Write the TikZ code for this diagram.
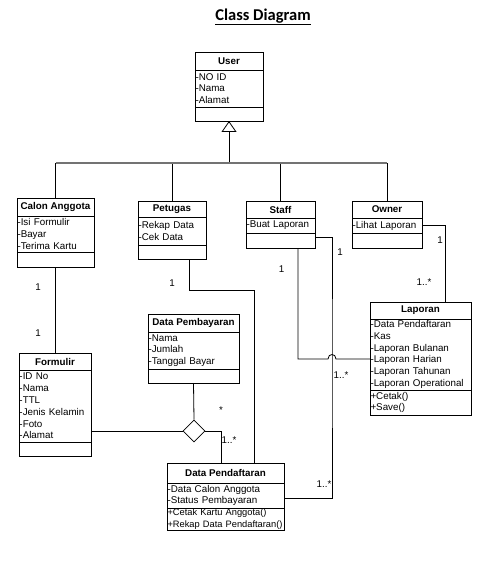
\documentclass[tikz,border=0pt]{standalone}
\usepackage{fontspec}
\setmainfont{Liberation Sans}
\newfontfamily\titlefont{Carlito}
\usetikzlibrary{positioning,arrows.meta,shapes.geometric}

\tikzset{
  cname/.style={draw, line width=0.8pt, font=\fontsize{9.8}{11.8}\selectfont\bfseries, inner sep=0pt, outer sep=0pt},
  cpart/.style={draw, line width=0.8pt, font=\fontsize{9.8}{11.8}\selectfont, align=left,
    inner xsep=0.5pt, inner ysep=0pt, outer sep=0pt, below=0pt of #1},
  mult/.style={font=\fontsize{9.8}{11.8}\selectfont, inner sep=0pt},
  link/.style={line width=0.8pt},
  busline/.style={line width=1.6pt, draw=black!55},
}

\begin{document}
\begin{tikzpicture}[x=1pt, y=-1pt]
  \useasboundingbox (0,0) rectangle (498,564);
  \node[font=\titlefont\fontsize{16.5}{18}\selectfont\bfseries] (title) at (263,17) {\underline{Class Diagram}};

  % User
  \node[cname, minimum width=68pt, minimum height=18pt] (user) at (229,61) {User};
  \node[cpart=user, text width=67pt, minimum height=37pt] (userA) {-NO ID\\-Nama\\-Alamat};
  \node[cpart=userA, text width=67pt, minimum height=14pt] (userM) {};

  % Calon Anggota
  \node[cname, minimum width=77pt, minimum height=18pt] (calon) at (55.5,207) {Calon Anggota};
  \node[cpart=calon, text width=76pt, minimum height=36pt] (calonA) {-Isi Formulir\\-Bayar\\-Terima Kartu};
  \node[cpart=calonA, text width=76pt, minimum height=15pt] (calonM) {};

  % Petugas
  \node[cname, minimum width=68pt, minimum height=16pt] (petugas) at (172,209) {Petugas};
  \node[cpart=petugas, text width=67pt, minimum height=28pt] (petugasA) {-Rekap Data\\-Cek Data};
  \node[cpart=petugasA, text width=67pt, minimum height=14pt] (petugasM) {};

  % Staff
  \node[cname, minimum width=69pt, minimum height=17pt] (staff) at (280.5,209.5) {Staff};
  \node[cpart=staff, text width=68pt, minimum height=15pt] (staffA) {-Buat Laporan};
  \node[cpart=staffA, text width=68pt, minimum height=15pt] (staffM) {};

  % Owner
  \node[cname, minimum width=70pt, minimum height=17pt] (owner) at (387,209.5) {Owner};
  \node[cpart=owner, text width=69pt, minimum height=15pt] (ownerA) {-Lihat Laporan};
  \node[cpart=ownerA, text width=69pt, minimum height=15pt] (ownerM) {};

  % Laporan
  \node[cname, minimum width=101pt, minimum height=17pt] (laporan) at (420.5,310.5) {Laporan};
  \node[cpart=laporan, text width=100pt, minimum height=71pt] (laporanA) {-Data Pendaftaran\\-Kas\\-Laporan Bulanan\\-Laporan Harian\\-Laporan Tahunan\\-Laporan Operational};
  \node[cpart=laporanA, text width=100pt, minimum height=25pt] (laporanM) {+Cetak()\\+Save()};

  % Formulir
  \node[cname, minimum width=72pt, minimum height=17pt] (formulir) at (55,361.5) {Formulir};
  \node[cpart=formulir, text width=71pt, minimum height=72pt] (formulirA) {-ID No\\-Nama\\-TTL\\-Jenis Kelamin\\-Foto\\-Alamat};
  \node[cpart=formulirA, text width=71pt, minimum height=14pt] (formulirM) {};

  % Data Pembayaran
  \node[cname, minimum width=91pt, minimum height=18pt] (dpemb) at (193.5,323) {Data Pembayaran};
  \node[cpart=dpemb, text width=90pt, minimum height=37pt] (dpembA) {-Nama\\-Jumlah\\-Tanggal Bayar};
  \node[cpart=dpembA, text width=90pt, minimum height=14pt] (dpembM) {};

  % Data Pendaftaran
  \node[cname, minimum width=117pt, minimum height=20pt] (dpend) at (225.5,473) {Data Pendaftaran};
  \node[cpart=dpend, text width=116pt, minimum height=25pt] (dpendA) {-Data Calon Anggota\\-Status Pembayaran};
  \node[cpart=dpendA, text width=116pt, minimum height=22pt, font=\fontsize{9.3}{11.8}\selectfont] (dpendM) {\mbox{+Cetak Kartu Anggota()}\\\mbox{+Rekap Data Pendaftaran()}};

  % generalisation
  \coordinate (bus) at (229,163);
  \draw[link, -{Triangle[open, length=11pt, width=15pt]}] (bus) -- (userM.south);
  \draw[link] (calon.north) -- (calon.north |- bus);
  \draw[link] (petugas.north) -- (petugas.north |- bus);
  \draw[link] (staff.north) -- (staff.north |- bus);
  \draw[link] (owner.north) -- (owner.north |- bus);
  \draw[busline] (calon.north |- bus) -- (owner.north |- bus);

  % associations
  \draw[link] (calonM.south) -- (calonM.south |- formulir.north);
  \draw[link] ([xshift=17pt]petugasM.south) -- ++(0,31) -| ([xshift=28.5pt]dpend.north);
  \draw[link] (ownerA.east) -| ([xshift=25pt]laporan.north);

  \coordinate (hop) at (332,359);
  \coordinate (dpR) at ([yshift=-2.5pt]dpendA.east);
  \draw[link] ([xshift=17.5pt]staffM.south) |- ([xshift=-4pt]hop)
    .. controls ([xshift=-4pt, yshift=6pt]hop) and ([xshift=4pt, yshift=6pt]hop) .. ([xshift=4pt]hop)
    -- (laporanA.west |- hop);
  \draw[link] ([yshift=3.5pt]staffM.east) -| (hop) -- (hop |- dpR) -- (dpR);

  % aggregation
  \node[diamond, draw, link, inner sep=0pt, minimum width=22pt, minimum height=22pt] (agg) at (194,431) {};
  \draw[link] (dpembM.south) -- (agg.north);
  \draw[link] (agg.west) -- (agg.west -| formulirA.east);
  \draw[link] (agg.east) -| ([xshift=-4.5pt]dpend.north);

  % multiplicities
  \node[mult] (mCalon) at (38,287) {1};
  \node[mult] (mForm) at (38,333) {1};
  \node[mult] (mPetugas) at (172,283) {1};
  \node[mult] (mStaffL) at (281.5,269) {1};
  \node[mult] (mStaffR) at (340,252) {1};
  \node[mult] (mOwner) at (440,240) {1};
  \node[mult] (mLapO) at (424,282) {1..*};
  \node[mult] (mLapS) at (341,375) {1..*};
  \node[mult] (mPemb) at (221,410) {*};
  \node[mult] (mPendA) at (229,440) {1..*};
  \node[mult] (mPendS) at (324,484) {1..*};
\end{tikzpicture}
\end{document}
